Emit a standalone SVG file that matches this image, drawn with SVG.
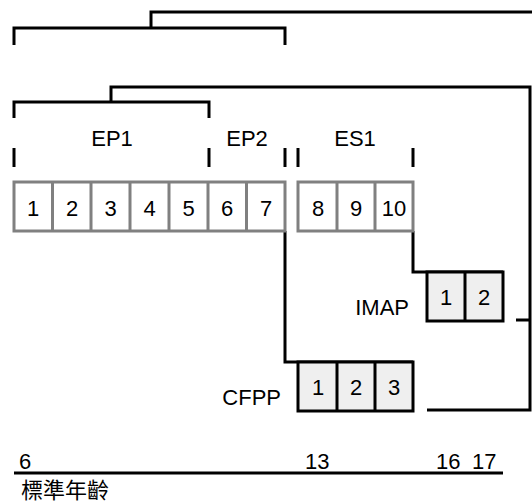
<svg xmlns="http://www.w3.org/2000/svg" width="532" height="502" viewBox="0 0 532 502">
<style>
text{font-family:"Liberation Sans",Arial,"Noto Sans CJK TC",sans-serif;font-size:22px;fill:#000}
.c{text-anchor:middle}
.g{fill:#fff;stroke:#808080;stroke-width:3}
.k{fill:#efefef;stroke:#000;stroke-width:3}
.ln{fill:none;stroke:#000;stroke-width:3}
</style>
<rect width="532" height="502" fill="#fff"/>
<g id="connectors" class="ln">
<path d="M14,45V28H285V45M151,28V12H532"/>
<path d="M14,118V102H209V118M111,102V87H530V410H427M516,320H530"/>
<path d="M14,148V167M209,148V167M285,148V167M298,148V167M413,148V167"/>
<path d="M285,231V362H413"/>
<path d="M413,231V272H503"/>
<path d="M14,473H503"/>
</g>
<g id="labels">
<text class="c" x="112" y="146">EP1</text>
<text class="c" x="247" y="146">EP2</text>
<text class="c" x="355" y="146">ES1</text>
</g>
<g id="ep">
<rect class="g" x="14" y="182" width="271" height="49"/>
<path class="g" d="M52.5,182V231M91,182V231M130,182V231M169,182V231M208,182V231M246.5,182V231"/>
<text class="c" x="33" y="216">1</text>
<text class="c" x="72" y="216">2</text>
<text class="c" x="110.5" y="216">3</text>
<text class="c" x="149.5" y="216">4</text>
<text class="c" x="188.5" y="216">5</text>
<text class="c" x="227" y="216">6</text>
<text class="c" x="266" y="216">7</text>
</g>
<g id="es">
<rect class="g" x="298" y="182" width="115" height="49"/>
<path class="g" d="M337,182V231M375,182V231"/>
<text class="c" x="318" y="216">8</text>
<text class="c" x="356" y="216">9</text>
<text class="c" x="394" y="216">10</text>
</g>
<g id="imap">
<rect class="k" x="427" y="272" width="76" height="49"/>
<path class="k" d="M465,272V321"/>
<text class="c" x="446" y="305">1</text>
<text class="c" x="484" y="305">2</text>
<text x="409" y="315" text-anchor="end">IMAP</text>
</g>
<g id="cfpp">
<rect class="k" x="298" y="362" width="115" height="49"/>
<path class="k" d="M337,362V411M375,362V411"/>
<text class="c" x="318" y="395">1</text>
<text class="c" x="356" y="395">2</text>
<text class="c" x="394" y="395">3</text>
<text x="281" y="405" text-anchor="end">CFPP</text>
</g>
<g id="axis">
<text x="19" y="469">6</text>
<text x="305" y="469">13</text>
<text x="436" y="469">16</text>
<text x="472" y="469">17</text>
<text x="21" y="498" font-size="21">標準年齡</text>
</g>
</svg>
